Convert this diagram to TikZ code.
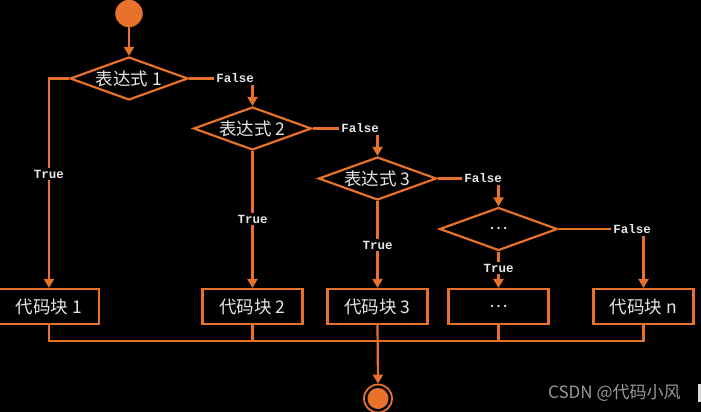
\documentclass[tikz,border=0pt]{standalone}
\usepackage{fontspec}
\setmainfont{Liberation Serif}
\newfontfamily\cjk{Noto Sans CJK SC}
\newfontfamily\monof{Liberation Mono}
\usetikzlibrary{shapes.geometric,arrows.meta}
\definecolor{org}{HTML}{E8712B}
\definecolor{txt}{HTML}{E6E6E6}
\definecolor{wmk}{HTML}{9A9A9A}
\begin{document}
\begin{tikzpicture}[x=1pt,y=-1pt,
  line/.style={draw=org, line width=2.2pt},
  arr/.style={line, -{Triangle[length=9pt,width=10pt]}},
  dec/.style={diamond, draw=org, line width=2.2pt, minimum width=118pt, minimum height=43pt,
    inner sep=0pt, aspect=2.7, text=txt, font=\cjk\fontsize{17.5}{17.5}\selectfont},
  blk/.style={rectangle, draw=org, line width=2.2pt, minimum width=100pt, minimum height=35pt,
    inner sep=0pt, text=txt, font=\cjk\fontsize{17.5}{17.5}\selectfont},
  lbl/.style={text=txt, font=\monof\bfseries\fontsize{12.5}{12.5}\selectfont, inner sep=2pt},
  term/.style={circle, inner sep=0pt, minimum size=27pt}
]
\fill[black] (0,0) rectangle (701,412);
\useasboundingbox (0,0) rectangle (701,412);

\node[term, fill=org, draw=org] (start) at (129,13.5) {};
\node[dec] (d1) at (129,78.5) {表达式 1};
\node[dec] (d2) at (252.5,128.5) {表达式 2};
\node[dec] (d3) at (377.5,178.5) {表达式 3};
\node[dec] (d4) at (498.5,229) {…};

\node[blk] (b1) at (49,306.5) {代码块 1};
\node[blk] (b2) at (252.5,306.5) {代码块 2};
\node[blk] (b3) at (377.5,306.5) {代码块 3};
\node[blk] (b4) at (498.5,306.5) {…};
\node[blk] (b5) at (643.5,306.5) {代码块 n};

\node[term, draw=org, line width=1.8pt, minimum size=28pt,
  path picture={\fill[org] (path picture bounding box.center) circle (10.5pt);}] (end) at (378,398.5) {};

% False labels
\node[lbl, anchor=east] (f1) at (256,78.5) {False};
\node[lbl, anchor=east] (f2) at (381,128.5) {False};
\node[lbl, anchor=east] (f3) at (504,178.5) {False};
\node[lbl, anchor=east] (f4) at (653,229) {False};
% True labels
\node[lbl] (t1) at (49,174) {True};
\node[lbl] (t2) at (252.5,219) {True};
\node[lbl] (t3) at (377.5,245) {True};
\node[lbl] (t4) at (498.5,268) {True};

\draw[arr] (start) -- (d1.north);

\draw[line] (d1.east) -- (f1.west);
\draw[arr] (d2.north |- f1.south) -- (d2.north);
\draw[line] (d2.east) -- (f2.west);
\draw[arr] (d3.north |- f2.south) -- (d3.north);
\draw[line] (d3.east) -- (f3.west);
\draw[arr] (d4.north |- f3.south) -- (d4.north);
\draw[line] (d4.east) -- (f4.west);
\draw[arr] (b5.north |- f4.south) -- (b5.north);

\draw[line] (d1.west) -| (t1.north);
\draw[arr] (t1.south) -- (b1.north);
\draw[line] (d2.south) -- (t2.north);
\draw[arr] (t2.south) -- (b2.north);
\draw[line] (d3.south) -- (t3.north);
\draw[arr] (t3.south) -- (b3.north);
\draw[line] (d4.south) -- (t4.north);
\draw[arr] (t4.south) -- (b4.north);

\coordinate (bus) at (377.5,341);
\draw[line] (b1.south) |- (bus) -| (b5.south);
\draw[line] (b2.south) -- (b2.south |- bus);
\draw[line] (b4.south) -- (b4.south |- bus);
\draw[arr] (b3.south) -- (end.north);

\node[anchor=west, text=wmk, font=\cjk\fontsize{17}{17}\selectfont, inner sep=0pt] (wm) at (548,393) {CSDN @代码小风};
\fill[white!85!black] (698,384) rectangle (701,402);
\end{tikzpicture}
\end{document}
